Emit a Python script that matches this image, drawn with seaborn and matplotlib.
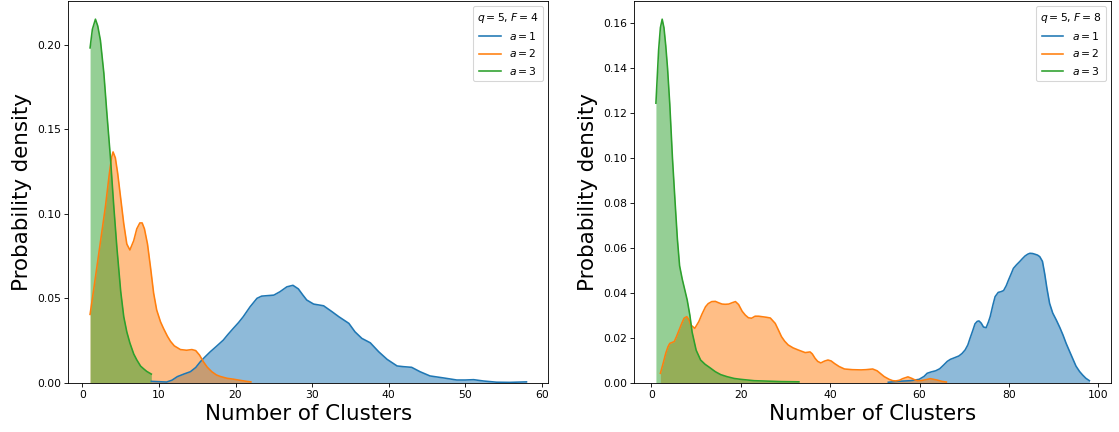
import matplotlib
matplotlib.use("Agg")
import matplotlib.pyplot as plt
import seaborn as sns

# density curves (x = number of clusters, y = density)
# left panel: q=5, F=4
left_a1_x = [9.0, 10.0, 11.0, 11.7, 12.4, 13.3, 14.1, 14.8, 15.4, 16.0, 16.7, 17.5, 18.4, 19.0, 19.7,
             20.4, 21.0, 21.9, 22.8, 23.4, 24.2, 25.0, 25.8, 26.7, 27.5, 28.2, 28.8, 29.3, 30.2, 31.5,
             32.6, 33.5, 34.8, 35.6, 36.5, 37.6, 38.7, 39.8, 41.1, 41.9, 43.0, 44.1, 45.4, 47.2, 48.9,
             50.0, 51.1, 52.4, 54.1, 55.8, 58.0]
left_a1_y = [0.0008, 0.0006, 0.0004, 0.0015, 0.0036, 0.0052, 0.0065, 0.0090, 0.0124, 0.0152, 0.0183,
             0.0215, 0.0252, 0.0285, 0.0321, 0.0356, 0.0390, 0.0449, 0.0499, 0.0512, 0.0515, 0.0518,
             0.0538, 0.0567, 0.0576, 0.0555, 0.0518, 0.0489, 0.0465, 0.0455, 0.0420, 0.0390, 0.0351,
             0.0301, 0.0262, 0.0236, 0.0183, 0.0138, 0.0099, 0.0095, 0.0091, 0.0065, 0.0040, 0.0028,
             0.0016, 0.0016, 0.0018, 0.0010, 0.0003, 0.0002, 0.0005]

left_a2_x = [1.0, 1.5, 2.0, 2.5, 3.0, 3.5, 3.8, 4.0, 4.3, 4.6, 5.0, 5.4, 5.8, 6.2, 6.7, 7.1, 7.5, 7.8,
             8.1, 8.5, 8.9, 9.3, 9.7, 10.2, 10.6, 11.1, 11.5, 12.0, 12.8, 13.6, 14.3, 14.8, 15.3, 15.8,
             16.3, 16.9, 17.5, 18.0, 18.9, 19.7, 20.6, 21.3, 22.0]
left_a2_y = [0.0404, 0.056, 0.072, 0.088, 0.104, 0.123, 0.133, 0.1365, 0.133, 0.124, 0.109, 0.094,
             0.082, 0.0785, 0.084, 0.091, 0.0945, 0.0945, 0.091, 0.082, 0.068, 0.053, 0.043, 0.036,
             0.032, 0.0275, 0.0245, 0.0218, 0.0196, 0.0192, 0.0196, 0.0190, 0.0163, 0.0124, 0.0092,
             0.0065, 0.0046, 0.0037, 0.0026, 0.0021, 0.0014, 0.0009, 0.0005]

left_a3_x = [1.0, 1.3, 1.7, 2.0, 2.35, 2.8, 3.2, 3.65, 4.1, 4.5, 5.0, 5.4, 5.8, 6.2, 6.7, 7.1, 7.6,
             8.0, 8.4, 9.0]
left_a3_y = [0.198, 0.209, 0.2150, 0.211, 0.2025, 0.183, 0.159, 0.1336, 0.104, 0.080, 0.054, 0.039,
             0.030, 0.0235, 0.017, 0.0135, 0.0098, 0.0082, 0.0067, 0.0051]

# right panel: q=5, F=8
right_a1_x = [53.0, 55.0, 58.0, 59.9, 61.0, 61.7, 62.6, 63.6, 64.5, 65.4, 66.2, 66.9, 67.8, 68.8, 69.5,
              70.2, 70.8, 71.3, 71.9, 72.4, 72.9, 73.3, 73.8, 74.3, 74.9, 75.4, 75.8, 76.4, 76.9, 77.6,
              78.2, 78.8, 79.4, 79.9, 80.5, 81.0, 81.7, 82.4, 83.0, 83.6, 84.2, 84.7, 85.3, 85.8, 86.4,
              86.9, 87.5, 88.0, 88.5, 89.1, 89.8, 90.6, 91.4, 92.1, 92.8, 93.6, 94.3, 95.0, 95.8, 96.5,
              97.2, 98.0]
right_a1_y = [0.0002, 0.0006, 0.0009, 0.0015, 0.0028, 0.0042, 0.0048, 0.0053, 0.0062, 0.0079, 0.0095,
              0.0104, 0.0111, 0.0119, 0.0130, 0.0146, 0.0168, 0.0198, 0.0232, 0.0262, 0.0273, 0.0275,
              0.0265, 0.0248, 0.0245, 0.0270, 0.0294, 0.0345, 0.0383, 0.0402, 0.0405, 0.0410, 0.0432,
              0.0457, 0.0485, 0.0509, 0.0525, 0.0539, 0.0552, 0.0564, 0.0572, 0.0576, 0.0575, 0.0572,
              0.0568, 0.0561, 0.0540, 0.0485, 0.0420, 0.0353, 0.0310, 0.0279, 0.0245, 0.0212, 0.0175,
              0.0138, 0.0106, 0.0074, 0.0050, 0.0034, 0.0020, 0.0009]

right_a2_x = [2.0, 2.6, 3.2, 3.7, 4.1, 4.6, 5.1, 5.6, 6.2, 6.8, 7.3, 7.9, 8.4, 8.8, 9.7, 10.6, 11.3,
              12.1, 12.7, 13.5, 14.3, 15.0, 15.8, 16.5, 17.3, 18.2, 18.8, 19.5, 20.3, 21.0, 21.7, 22.4,
              23.2, 24.0, 24.7, 25.8, 26.6, 27.7, 28.4, 29.1, 29.8, 30.6, 31.7, 32.8, 34.4, 35.5, 36.0,
              36.6, 37.2, 37.9, 38.7, 39.5, 40.2, 41.0, 42.0, 43.2, 45.0, 46.9, 48.0, 49.5, 50.5, 51.3,
              52.1, 53.2, 54.0, 54.7, 55.5, 56.2, 57.4, 58.3, 58.8, 59.5, 60.2, 61.3, 62.4, 63.9, 65.0,
              66.0]
right_a2_y = [0.0042, 0.0085, 0.0131, 0.0160, 0.0175, 0.0179, 0.0183, 0.0205, 0.0235, 0.0265, 0.0287,
              0.0294, 0.0280, 0.0257, 0.0242, 0.0272, 0.0305, 0.0338, 0.0352, 0.0361, 0.0362, 0.0356,
              0.0350, 0.0349, 0.0350, 0.0357, 0.0361, 0.0348, 0.0318, 0.0301, 0.0289, 0.0287, 0.0296,
              0.0296, 0.0294, 0.0291, 0.0288, 0.0264, 0.0235, 0.0205, 0.0185, 0.0168, 0.0155, 0.0146,
              0.0134, 0.0137, 0.0128, 0.0109, 0.0095, 0.0088, 0.0096, 0.0101, 0.0097, 0.0085, 0.0072,
              0.0061, 0.0058, 0.0057, 0.0058, 0.0061, 0.0053, 0.0040, 0.0027, 0.0015, 0.0009, 0.0008,
              0.0011, 0.0018, 0.0026, 0.0019, 0.0014, 0.0009, 0.0009, 0.0013, 0.0018, 0.0012, 0.0006,
              0.0003]

right_a3_x = [1.0, 1.6, 2.0, 2.4, 2.8, 3.2, 3.6, 4.1, 4.7, 5.3, 5.8, 6.3, 6.9, 7.5, 8.0, 8.6, 9.1,
              10.0, 11.0, 12.0, 13.0, 14.3, 15.5, 16.9, 18.5, 20.0, 23.0, 26.0, 29.0, 33.0]
right_a3_y = [0.1244, 0.148, 0.158, 0.1618, 0.158, 0.150, 0.140, 0.124, 0.100, 0.080, 0.064, 0.052,
              0.046, 0.041, 0.0368, 0.030, 0.0225, 0.0145, 0.0101, 0.0082, 0.0068, 0.0049, 0.0036,
              0.0027, 0.0019, 0.0015, 0.0009, 0.0007, 0.0005, 0.0004]

a_labels = ['$a=1$', '$a=2$', '$a=3$']
panel_titles = ['$q=5$, $F=4$', '$q=5$, $F=8$']
colors = sns.color_palette('tab10', 3)

panels = [
    [(left_a1_x, left_a1_y), (left_a2_x, left_a2_y), (left_a3_x, left_a3_y)],
    [(right_a1_x, right_a1_y), (right_a2_x, right_a2_y), (right_a3_x, right_a3_y)],
]

# figure is drawn at dpi 77 so default font sizes match the reference scale
fig, axes = plt.subplots(1, 2, figsize=(1119 / 77, 432 / 77), dpi=77)
axes[0].set_position([0.0610, 0.1141, 0.4290, 0.8836])
axes[1].set_position([0.5668, 0.1141, 0.4261, 0.8836])

for ax, curves, title in zip(axes, panels, panel_titles):
    # fills first, in order a=1, a=2, a=3
    for (xs, ys), c in zip(curves, colors):
        coll = ax.fill_between(xs, ys, color=c, alpha=0.5, linewidth=0)
        coll.sticky_edges.y.append(0)
    for (xs, ys), c, lab in zip(curves, colors, a_labels):
        sns.lineplot(x=xs, y=ys, color=c, label=lab, ax=ax, estimator=None, sort=False)
    ax.set_xlabel('Number of Clusters', fontsize=20)
    ax.set_ylabel('Probability density', fontsize=20)
    ax.legend(title=title, loc='upper right')

fig.savefig('out.png', dpi=77)
